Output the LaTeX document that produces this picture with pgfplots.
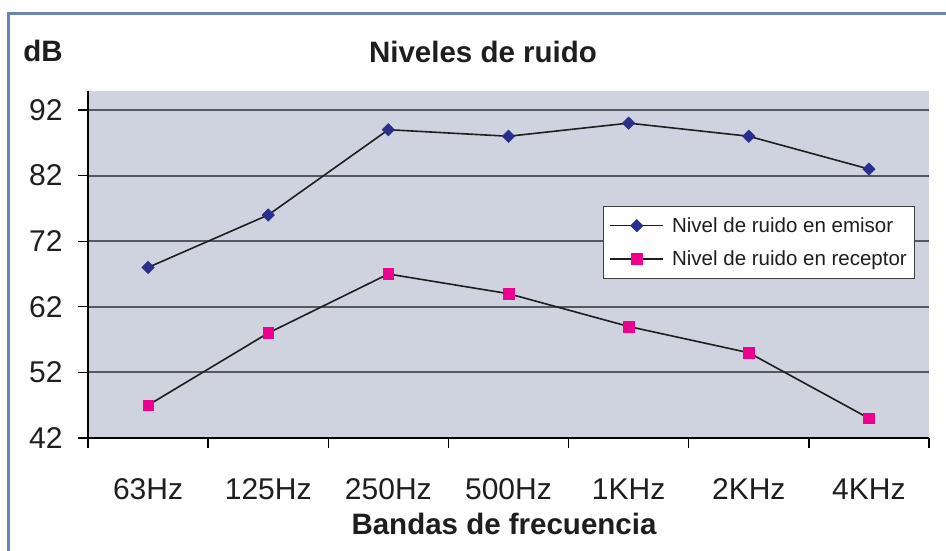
\documentclass[border=0pt]{standalone}
\usepackage{fontspec}
\setmainfont{Liberation Sans}
\usepackage{pgfplots}
\pgfplotsset{compat=1.18}
\definecolor{bgc}{RGB}{207,211,224}
\definecolor{gridc}{RGB}{85,88,98}
\definecolor{emi}{RGB}{44,46,140}
\definecolor{rec}{RGB}{236,0,140}
\definecolor{framec}{RGB}{103,132,180}
\definecolor{txt}{RGB}{30,30,30}
\begin{document}
\begin{tikzpicture}[x=1pt,y=1pt]
\path[use as bounding box] (0,0) rectangle (946,551);
\draw[framec, line width=3pt] (8,-5) -- (8,537) -- (952,537);
\begin{axis}[
  at={(88pt,113pt)}, anchor=south west,
  scale only axis, width=841pt, height=347pt,
  xmin=-0.5, xmax=6.5, ymin=42, ymax=94.9,
  axis x line*=bottom, axis y line*=left,
  axis line style={black, line width=1.3pt, -},
  axis background/.style={fill=bgc},
  xtick={0,...,6},
  xticklabels={63Hz,125Hz,250Hz,500Hz,1KHz,2KHz,4KHz},
  minor xtick={-0.5,0.5,...,6.5},
  ytick={42,52,...,92},
  tick align=outside,
  major tick length=10pt, minor tick length=10pt,
  major x tick style={draw=none},
  minor x tick style={black, line width=1.3pt},
  major y tick style={black, line width=1.3pt},
  ymajorgrids,
  major grid style={gridc, line width=1.8pt},
  ticklabel style={font=\fontsize{30}{36}\selectfont, text=txt},
  /pgf/number format/assume math mode=true,
  yticklabel style={anchor=east, xshift=-12pt},
  xticklabel style={anchor=base, yshift=-52pt},
  legend style={at={(0.6124,0.6686)}, anchor=north west, draw=black!75, line width=1pt, fill=white,
    font=\fontsize{20.5}{24}\selectfont, text=txt, inner xsep=6pt, inner ysep=9pt, row sep=13pt},
  legend cell align=left,
  legend image code/.code={\draw[mark repeat=2,mark phase=2,#1] plot coordinates {(0pt,0pt) (26.5pt,0pt) (53pt,0pt)}; \path (59pt,0pt);},
]
\addplot[color=txt, line width=1.6pt, mark=square*, mark size=4.4pt, mark options={emi, solid, rotate=45, line width=0.5pt}]
  coordinates {(0,68) (1,76) (2,89) (3,88) (4,90) (5,88) (6,83)};
\addlegendentry{Nivel de ruido en emisor}
\addplot[color=txt, line width=1.6pt, mark=square*, mark size=5.3pt, mark options={rec, solid, line width=0.5pt}]
  coordinates {(0,47) (1,58) (2,67) (3,64) (4,59) (5,55) (6,45)};
\addlegendentry{Nivel de ruido en receptor}
\end{axis}
\node[font=\fontsize{29.5}{34}\selectfont\bfseries, text=txt, anchor=base] at (483,488) {Niveles de ruido};
\node[font=\fontsize{29.5}{34}\selectfont\bfseries, text=txt, anchor=base] at (43,489) {dB};
\node[font=\fontsize{29.5}{34}\selectfont\bfseries, text=txt, anchor=base] at (504,16) {Bandas de frecuencia};
\end{tikzpicture}
\end{document}
